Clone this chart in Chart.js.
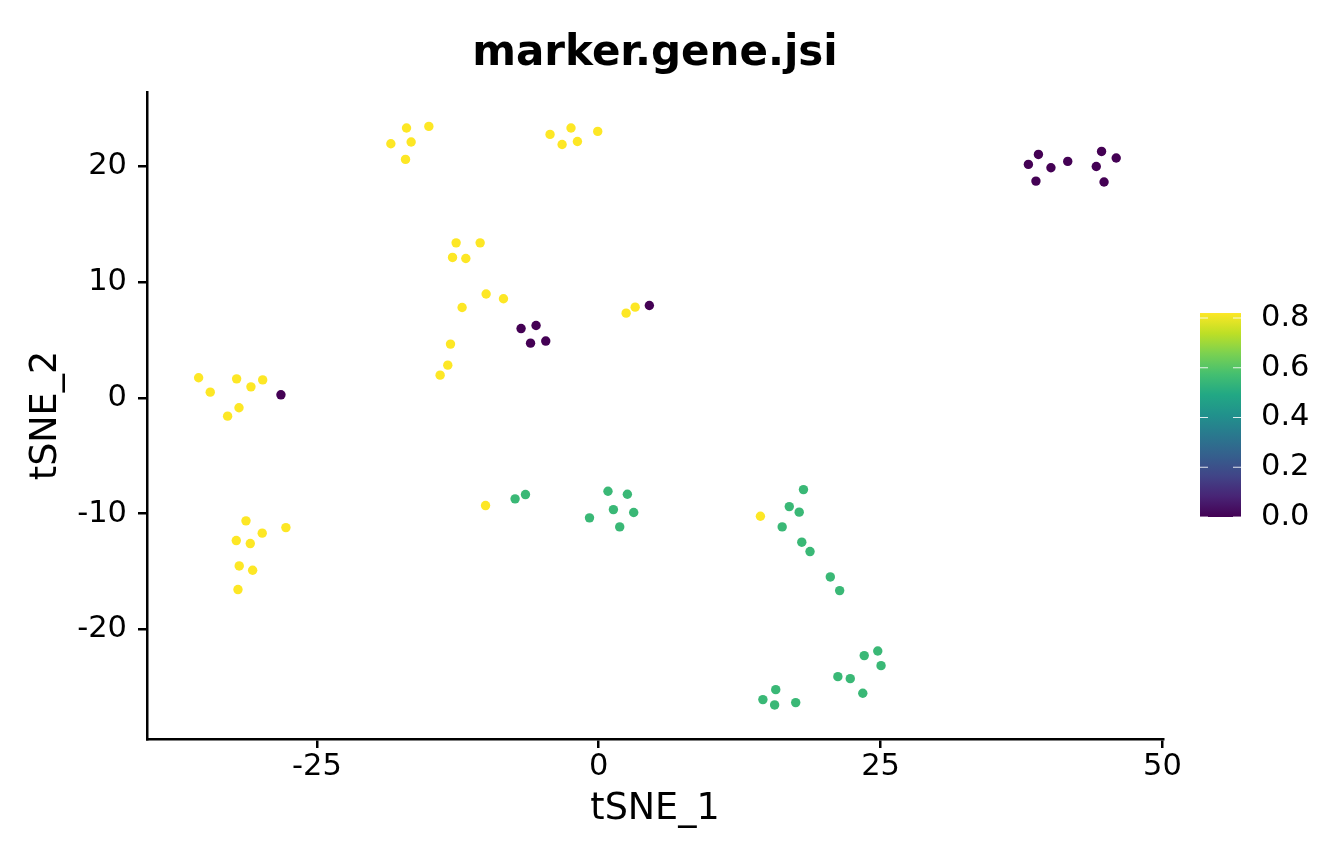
<!DOCTYPE html>
<html>
<head>
<meta charset="utf-8">
<script src="https://cdn.jsdelivr.net/npm/chart.js@4.4.1/dist/chart.umd.min.js"></script>
<style>
  body { margin: 0; background: #fff; }
  #wrap { width: 1344px; height: 864px; }
</style>
</head>
<body>
<div id="wrap"><canvas id="tsneChart" width="1344" height="864"></canvas></div>
<script>
// cell coordinates
const tsne1 = [
  -18.44, -17.05, -16.64, -15.07, -17.14, -4.32, -3.25, -2.46, -1.89, -0.09,
  -12.65, -12.97, -11.79, -10.52, -9.99, -8.45, -12.12, -13.15, -13.39, -14.07,
  2.43, 3.23, -35.49, -34.46, -32.12, -30.85, -29.81, -31.91, -32.92, -31.29,
  -29.85, -27.75, -32.15, -30.91, -31.89, -30.70, -32.00, -10.04, 14.34,
  -28.19, -6.89, -5.56, -6.05, -4.70, 4.49, 39.00, 38.11, 40.11, 41.60,
  38.78, 44.60, 45.90, 44.13, 44.82,
  -7.42, -6.50, 0.82, 2.54, 1.30, 3.10, -0.82, 1.86, 18.16, 16.90,
  17.78, 16.27, 18.01, 18.74, 20.54, 21.37, 24.75, 23.55, 25.04, 21.21,
  22.31, 23.42, 15.70, 14.56, 15.60, 17.47
];
const tsne2 = [
  21.93, 23.29, 22.08, 23.43, 20.58, 22.74, 21.87, 23.29, 22.13, 23.00,
  13.38, 12.12, 12.03, 13.38, 8.96, 8.55, 7.80, 4.64, 2.82, 1.96,
  7.31, 7.83, 1.73, 0.49, 1.64, 0.95, 1.55, -0.86, -1.58, -10.62,
  -11.68, -11.20, -12.32, -12.58, -14.51, -14.88, -16.55, -9.30, -10.22,
  0.26, 5.98, 6.24, 4.72, 4.90, 7.97, 21.01, 20.15, 19.86, 20.41,
  18.71, 21.27, 20.70, 19.97, 18.63,
  -8.72, -8.35, -8.06, -8.32, -9.65, -9.90, -10.36, -11.14, -7.92, -9.39,
  -9.87, -11.14, -12.46, -13.27, -15.46, -16.64, -21.85, -22.25, -23.12, -24.07,
  -24.24, -25.50, -25.19, -26.05, -26.51, -26.31
];
const jsi = [
  0.82, 0.82, 0.82, 0.82, 0.82, 0.82, 0.82, 0.82, 0.82, 0.82,
  0.82, 0.82, 0.82, 0.82, 0.82, 0.82, 0.82, 0.82, 0.82, 0.82,
  0.82, 0.82, 0.82, 0.82, 0.82, 0.82, 0.82, 0.82, 0.82, 0.82,
  0.82, 0.82, 0.82, 0.82, 0.82, 0.82, 0.82, 0.82, 0.82,
  0, 0, 0, 0, 0, 0, 0, 0, 0, 0,
  0, 0, 0, 0, 0,
  0.55, 0.55, 0.55, 0.55, 0.55, 0.55, 0.55, 0.55, 0.55, 0.55,
  0.55, 0.55, 0.55, 0.55, 0.55, 0.55, 0.55, 0.55, 0.55, 0.55,
  0.55, 0.55, 0.55, 0.55, 0.55, 0.55
];
const xTicks = [-25, 0, 25, 50];
const yTicks = [-20, -10, 0, 10, 20];
const cbTicks = [0, 0.2, 0.4, 0.6, 0.8];
const jsiMax = 0.82;

const viridis = ['#440154','#482475','#414487','#355f8d','#2a788e','#21918c',
                 '#22a884','#44bf70','#7ad151','#bddf26','#fde725'];

function hexRgb(h) {
  return [1, 3, 5].map(i => parseInt(h.substr(i, 2), 16));
}
function viridisColor(t) {
  t = Math.max(0, Math.min(1, t));
  const pos = t * (viridis.length - 1);
  const i = Math.min(Math.floor(pos), viridis.length - 2);
  const f = pos - i;
  const a = hexRgb(viridis[i]), b = hexRgb(viridis[i + 1]);
  const c = a.map((v, k) => Math.round(v + (b[k] - v) * f));
  return `rgb(${c[0]},${c[1]},${c[2]})`;
}

const points = tsne1.map((x, i) => ({ x: x, y: tsne2[i] }));
const colors = jsi.map(v => viridisColor(v / jsiMax));

const FONT = "'DejaVu Sans', sans-serif";

// title + colour bar
const extras = {
  id: 'extras',
  afterDraw(chart) {
    const ctx = chart.ctx;
    const area = chart.chartArea;
    ctx.save();
    ctx.fillStyle = '#000';
    ctx.font = "bold 42px " + FONT;
    ctx.textAlign = 'center';
    ctx.textBaseline = 'alphabetic';
    ctx.fillText('marker.gene.jsi', (area.left + area.right) / 2, 65);

    // colour bar
    const cbLeft = 1200, cbW = 41, cbBottom = 517, pxPer = 248.75;
    const cbTop = cbBottom - jsiMax * pxPer;
    const grad = ctx.createLinearGradient(0, cbBottom, 0, cbTop);
    viridis.forEach((c, i) => grad.addColorStop(i / (viridis.length - 1), c));
    ctx.fillStyle = grad;
    ctx.fillRect(cbLeft, cbTop, cbW, cbBottom - cbTop);

    ctx.strokeStyle = 'rgba(255,255,255,0.85)';
    ctx.lineWidth = 1.2;
    ctx.font = "30.5px " + FONT;
    ctx.textAlign = 'left';
    ctx.textBaseline = 'middle';
    cbTicks.forEach(v => {
      const y = cbBottom - v * pxPer;
      ctx.beginPath();
      ctx.moveTo(cbLeft, y); ctx.lineTo(cbLeft + 8, y);
      ctx.moveTo(cbLeft + cbW - 8, y); ctx.lineTo(cbLeft + cbW, y);
      ctx.stroke();
      ctx.fillStyle = '#000';
      ctx.fillText(v.toFixed(1), 1261, y);
    });
    ctx.restore();
  }
};

new Chart(document.getElementById('tsneChart'), {
  type: 'scatter',
  data: {
    datasets: [{
      label: 'marker.gene.jsi',
      data: points,
      pointBackgroundColor: colors,
      pointBorderWidth: 0,
      pointRadius: 4.7,
      pointHoverRadius: 4.7
    }]
  },
  options: {
    responsive: false,
    animation: false,
    layout: { padding: { left: 0, right: 181, top: 92, bottom: 0 } },
    plugins: {
      legend: { display: false },
      title: { display: false },
      tooltip: { enabled: false }
    },
    scales: {
      x: {
        type: 'linear',
        min: -40.07,
        max: 50.05,
        afterBuildTicks: s => { s.ticks = xTicks.map(v => ({ value: v })); },
        afterFit: s => { s.height = 125; },
        ticks: { color: '#000', font: { family: FONT, size: 30.5 }, padding: 1 },
        grid: { drawOnChartArea: false, drawTicks: true, tickLength: 9, color: '#000', lineWidth: 2.5 },
        border: { display: true, color: '#000', width: 2.5 },
        title: { display: true, text: 'tSNE_1', color: '#000', font: { family: FONT, size: 36.5 }, padding: { top: 0, bottom: 33 } }
      },
      y: {
        type: 'linear',
        min: -29.45,
        max: 26.4,
        afterBuildTicks: s => { s.ticks = yTicks.map(v => ({ value: v })); },
        afterFit: s => { s.width = 147; },
        ticks: { color: '#000', font: { family: FONT, size: 30.5 }, padding: 11 },
        grid: { drawOnChartArea: false, drawTicks: true, tickLength: 9, color: '#000', lineWidth: 2.5 },
        border: { display: true, color: '#000', width: 2.5 },
        title: { display: true, text: 'tSNE_2', color: '#000', font: { family: FONT, size: 36.5 }, padding: { top: 25, bottom: 0 } }
      }
    }
  },
  plugins: [extras]
});
</script>
</body>
</html>
